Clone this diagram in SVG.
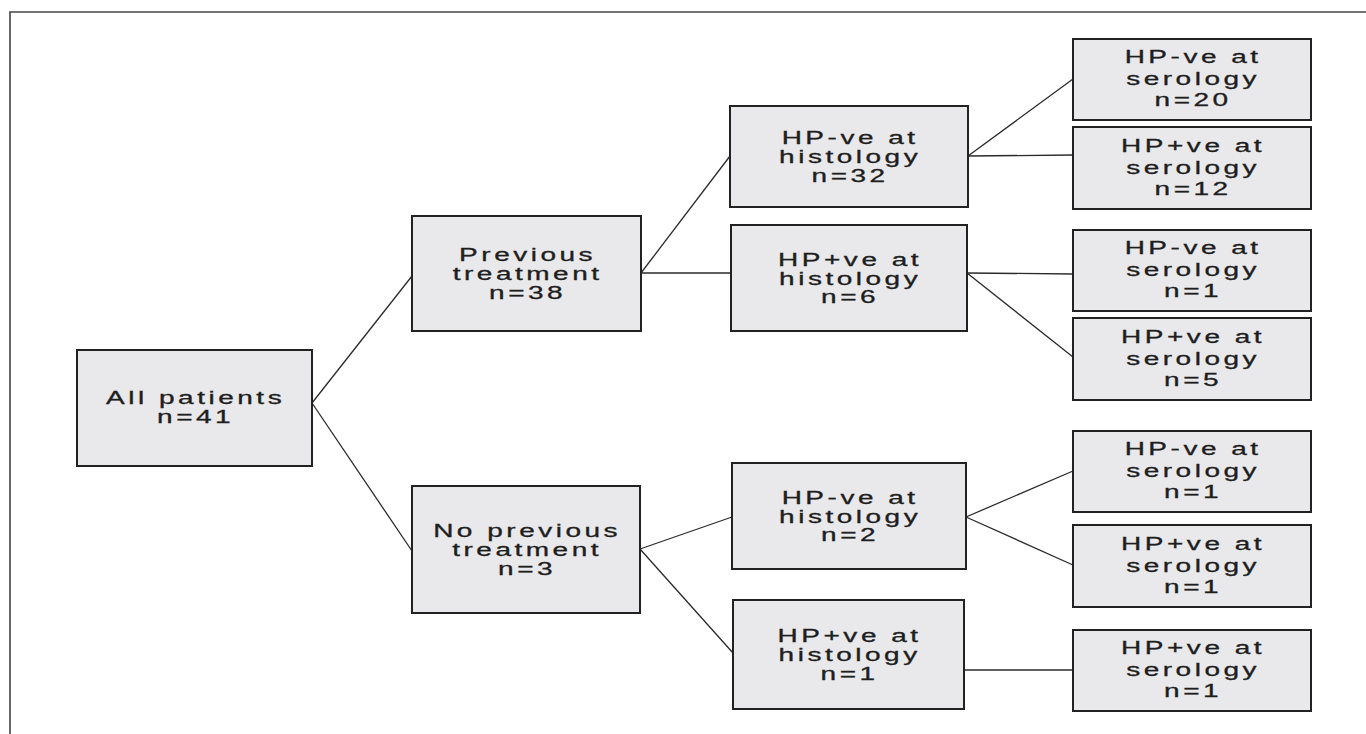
<svg xmlns="http://www.w3.org/2000/svg" width="1366" height="734" viewBox="0 0 1366 734">
<style>
.box{fill:#e9e9eb;stroke:#222;stroke-width:2}
.lbl{font-family:"Liberation Sans",Arial,sans-serif;font-size:17.5px;fill:#1e1e1e;stroke:#1e1e1e;stroke-width:0.3;text-anchor:middle;letter-spacing:2.2px}
.conn line{stroke:#2a2a2a;stroke-width:1.3}
.frame{stroke:#444;stroke-width:1.6;fill:none}
</style>
<rect width="1366" height="734" fill="#fff"/>
<path class="frame" d="M10,734 L10,12 L1366,12"/>
<g id="connectors" class="conn">
<line x1="312" y1="403" x2="412" y2="276"/>
<line x1="312" y1="403" x2="412" y2="551"/>
<line x1="641" y1="273" x2="730" y2="156"/>
<line x1="641" y1="273" x2="731" y2="273"/>
<line x1="968" y1="156" x2="1073" y2="79"/>
<line x1="968" y1="156" x2="1073" y2="155"/>
<line x1="967" y1="273" x2="1073" y2="274"/>
<line x1="967" y1="273" x2="1073" y2="357"/>
<line x1="640" y1="549" x2="732" y2="517"/>
<line x1="640" y1="549" x2="733" y2="653"/>
<line x1="966" y1="517" x2="1073" y2="471"/>
<line x1="966" y1="517" x2="1073" y2="565"/>
<line x1="964" y1="670" x2="1073" y2="670"/>
</g>
<g id="all">
<rect class="box" x="77" y="350" width="235" height="116"/>
<g transform="translate(194.5,408) scale(1.6 1)"><text class="lbl"><tspan x="0.7" y="-4">All patients</tspan><tspan x="0.7" y="15">n=41</tspan></text></g>
</g>
<g id="prev">
<rect class="box" x="412" y="216" width="229" height="115"/>
<g transform="translate(526.5,273.5) scale(1.6 1)"><text class="lbl"><tspan x="0.7" y="-12.5">Previous</tspan><tspan x="0.7" y="6.5">treatment</tspan><tspan x="0.7" y="25.5">n=38</tspan></text></g>
</g>
<g id="noprev">
<rect class="box" x="412" y="486" width="228" height="127"/>
<g transform="translate(526,549.5) scale(1.6 1)"><text class="lbl"><tspan x="0.7" y="-12.5">No previous</tspan><tspan x="0.7" y="6.5">treatment</tspan><tspan x="0.7" y="25.5">n=3</tspan></text></g>
</g>
<g id="h1">
<rect class="box" x="730" y="106" width="238" height="101"/>
<g transform="translate(849,156.5) scale(1.6 1)"><text class="lbl"><tspan x="0.7" y="-12.5">HP-ve at</tspan><tspan x="0.7" y="6.5">histology</tspan><tspan x="0.7" y="25.5">n=32</tspan></text></g>
</g>
<g id="h2">
<rect class="box" x="731" y="225" width="236" height="106"/>
<g transform="translate(849,278) scale(1.6 1)"><text class="lbl"><tspan x="0.7" y="-12.5">HP+ve at</tspan><tspan x="0.7" y="6.5">histology</tspan><tspan x="0.7" y="25.5">n=6</tspan></text></g>
</g>
<g id="h3">
<rect class="box" x="732" y="463" width="234" height="106"/>
<g transform="translate(849,516) scale(1.6 1)"><text class="lbl"><tspan x="0.7" y="-12.5">HP-ve at</tspan><tspan x="0.7" y="6.5">histology</tspan><tspan x="0.7" y="25.5">n=2</tspan></text></g>
</g>
<g id="h4">
<rect class="box" x="733" y="600" width="231" height="109"/>
<g transform="translate(848.5,654.5) scale(1.6 1)"><text class="lbl"><tspan x="0.7" y="-12.5">HP+ve at</tspan><tspan x="0.7" y="6.5">histology</tspan><tspan x="0.7" y="25.5">n=1</tspan></text></g>
</g>
<g id="s1">
<rect class="box" x="1073" y="39" width="238" height="81"/>
<g transform="translate(1192,79.5) scale(1.6 1)"><text class="lbl"><tspan x="0.7" y="-16.5">HP-ve at</tspan><tspan x="0.7" y="5.5">serology</tspan><tspan x="0.7" y="27">n=20</tspan></text></g>
</g>
<g id="s2">
<rect class="box" x="1073" y="127" width="238" height="82"/>
<g transform="translate(1192,168) scale(1.6 1)"><text class="lbl"><tspan x="0.7" y="-16.5">HP+ve at</tspan><tspan x="0.7" y="5.5">serology</tspan><tspan x="0.7" y="27">n=12</tspan></text></g>
</g>
<g id="s3">
<rect class="box" x="1073" y="230" width="238" height="81"/>
<g transform="translate(1192,270.5) scale(1.6 1)"><text class="lbl"><tspan x="0.7" y="-16.5">HP-ve at</tspan><tspan x="0.7" y="5.5">serology</tspan><tspan x="0.7" y="27">n=1</tspan></text></g>
</g>
<g id="s4">
<rect class="box" x="1073" y="318" width="238" height="82"/>
<g transform="translate(1192,359) scale(1.6 1)"><text class="lbl"><tspan x="0.7" y="-16.5">HP+ve at</tspan><tspan x="0.7" y="5.5">serology</tspan><tspan x="0.7" y="27">n=5</tspan></text></g>
</g>
<g id="s5">
<rect class="box" x="1073" y="431" width="238" height="81"/>
<g transform="translate(1192,471.5) scale(1.6 1)"><text class="lbl"><tspan x="0.7" y="-16.5">HP-ve at</tspan><tspan x="0.7" y="5.5">serology</tspan><tspan x="0.7" y="27">n=1</tspan></text></g>
</g>
<g id="s6">
<rect class="box" x="1073" y="525" width="238" height="82"/>
<g transform="translate(1192,566) scale(1.6 1)"><text class="lbl"><tspan x="0.7" y="-16.5">HP+ve at</tspan><tspan x="0.7" y="5.5">serology</tspan><tspan x="0.7" y="27">n=1</tspan></text></g>
</g>
<g id="s7">
<rect class="box" x="1073" y="630" width="238" height="81"/>
<g transform="translate(1192,670.5) scale(1.6 1)"><text class="lbl"><tspan x="0.7" y="-16.5">HP+ve at</tspan><tspan x="0.7" y="5.5">serology</tspan><tspan x="0.7" y="27">n=1</tspan></text></g>
</g>
</svg>
